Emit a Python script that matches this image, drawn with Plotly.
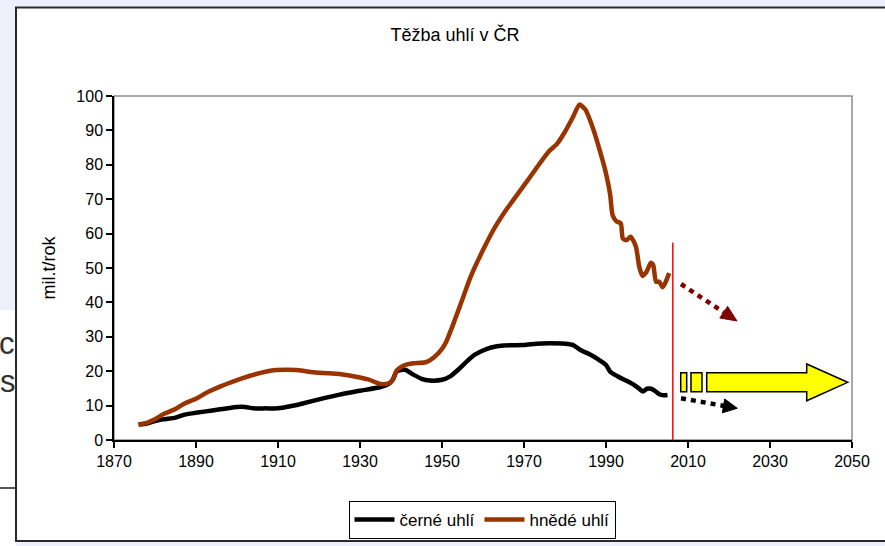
import plotly.graph_objects as go

# ---------------- data ----------------
years_cerne = [1876, 1878, 1880, 1882, 1885, 1887, 1890, 1894, 1897, 1900, 1902, 1904,
               1907, 1910, 1913, 1916, 1920, 1925, 1930, 1935, 1937, 1938, 1939, 1941,
               1943, 1945, 1947, 1950, 1952, 1954, 1956, 1958, 1960, 1962, 1965, 1970,
               1973, 1976, 1980, 1982, 1984, 1986, 1988, 1990, 1991, 1993, 1995, 1997,
               1998, 1999, 2000, 2001, 2002, 2003, 2004, 2005]
cerne = [4.5, 4.8, 5.5, 6.0, 6.5, 7.3, 7.9, 8.6, 9.1, 9.6, 9.6, 9.2,
         9.2, 9.2, 9.8, 10.6, 11.8, 13.2, 14.3, 15.4, 16.3, 17.5, 20.0, 20.4,
         19.0, 17.8, 17.3, 17.5, 18.5, 20.5, 22.8, 24.8, 26.0, 26.9, 27.5, 27.6,
         28.0, 28.1, 28.0, 27.6, 26.0, 24.9, 23.5, 21.8, 19.9, 18.4, 17.2, 15.9,
         15.0, 14.1, 14.9, 14.9, 14.2, 13.3, 13.0, 13.1]

years_hnede = [1876, 1878, 1880, 1882, 1885, 1887, 1890, 1893, 1896, 1900, 1903, 1906,
               1909, 1912, 1915, 1918, 1921, 1925, 1929, 1932, 1935, 1937, 1938, 1939,
               1941, 1943, 1946, 1948, 1950, 1951, 1953, 1955, 1957, 1960, 1963, 1966,
               1970, 1973, 1976, 1978, 1980, 1982, 1983.5, 1985, 1987, 1989, 1990, 1991,
               1991.6, 1992.6, 1993.6, 1994.1, 1995, 1996, 1997.3, 1998.1, 1998.9, 1999.9,
               2000.9, 2001.5, 2002.2, 2003, 2003.8, 2004.4, 2005.4]
hnede = [4.5, 5.0, 6.0, 7.5, 9.0, 10.5, 12.0, 14.0, 15.6, 17.4, 18.6, 19.6,
         20.3, 20.4, 20.3, 19.8, 19.5, 19.2, 18.4, 17.6, 16.3, 16.5, 17.6, 20.3,
         21.8, 22.3, 22.6, 24.0, 26.5, 28.5, 34.5, 41.0, 47.5, 55.2, 62.0, 67.5,
         74.0, 79.0, 83.8, 86.0, 89.6, 94.0, 97.5, 96.0, 90.0, 82.0, 77.5, 71.5,
         65.4, 63.5, 63.0, 58.6, 58.1, 59.1, 56.2, 50.4, 47.7, 48.9,
         51.5, 50.9, 46.0, 46.0, 44.4, 45.5, 48.5]

x_ticks = [1870, 1890, 1910, 1930, 1950, 1970, 1990, 2010, 2030, 2050]
y_ticks = [0, 10, 20, 30, 40, 50, 60, 70, 80, 90, 100]
series_names = ["černé uhlí", "hnědé uhlí"]
title_text = "Těžba uhlí v ČR"
y_title = "mil.t/rok"

# ---------------- layout helpers ----------------
W, H = 885, 546
L, R, T, B = 114, 852, 96, 440  # plot area in px


def pxx(p):
    return (p - L) / (R - L)


def pxy(p):
    return (B - p) / (B - T)


FONT = "Liberation Sans, Arial, sans-serif"
BROWN = "#993300"

fig = go.Figure()
fig.add_trace(go.Scatter(x=years_cerne, y=cerne, mode="lines", name=series_names[0],
                         line=dict(color="black", width=4.5, shape="spline", smoothing=0.6)))
fig.add_trace(go.Scatter(x=years_hnede, y=hnede, mode="lines", name=series_names[1],
                         line=dict(color=BROWN, width=4.5, shape="spline", smoothing=0.6)))

shapes = []
# white lower-left page area and the chart frame
shapes.append(dict(type="rect", xref="paper", yref="paper", x0=pxx(-5), x1=pxx(16),
                   y0=pxy(560), y1=pxy(310), fillcolor="white", line=dict(width=0), layer="below"))
shapes.append(dict(type="line", xref="paper", yref="paper", x0=pxx(-5), x1=pxx(16),
                   y0=pxy(488), y1=pxy(488), line=dict(color="#555555", width=2), layer="below"))
shapes.append(dict(type="rect", xref="paper", yref="paper", x0=pxx(16), x1=pxx(900),
                   y0=pxy(541), y1=pxy(7.5), fillcolor="white",
                   line=dict(color="#2a2a2a", width=2), layer="below"))
# plot-area border (gray)
shapes.append(dict(type="rect", xref="paper", yref="paper", x0=0, x1=1, y0=0, y1=1,
                   line=dict(color="#8c8c8c", width=1.5), layer="below"))
# red vertical line (today)
shapes.append(dict(type="line", xref="x", yref="y", x0=2006.3, x1=2006.3, y0=0, y1=57.4,
                   line=dict(color="#ff0000", width=1.5)))
# dotted trend arrows
shapes.append(dict(type="line", xref="x", yref="y", x0=2008.3, y0=45.35, x1=2018.7, y1=37.15,
                   line=dict(color="#800000", width=4.5, dash="5px,5px")))
shapes.append(dict(type="path", xref="x", yref="y",
                   path="M 2021.95 34.6 L 2017.76 35.47 L 2019.66 38.84 Z",
                   fillcolor="#800000", line=dict(color="#800000", width=1)))
shapes.append(dict(type="line", xref="x", yref="y", x0=2008.3, y0=12.12, x1=2018.85, y1=9.91,
                   line=dict(color="black", width=4.5, dash="5px,5px")))
shapes.append(dict(type="path", xref="x", yref="y",
                   path="M 2022.02 9.22 L 2018.37 7.91 L 2018.95 11.92 Z",
                   fillcolor="black", line=dict(color="black", width=1)))
# yellow block arrow
YEL = "#ffff00"
shapes.append(dict(type="rect", xref="x", yref="y", x0=2008.22, x1=2009.68, y0=14.04, y1=19.56,
                   fillcolor=YEL, line=dict(color="black", width=1.5)))
shapes.append(dict(type="rect", xref="x", yref="y", x0=2010.73, x1=2013.41, y0=14.04, y1=19.56,
                   fillcolor=YEL, line=dict(color="black", width=1.5)))
shapes.append(dict(type="path", xref="x", yref="y",
                   path=("M 2014.56 14.04 L 2038.95 14.04 L 2038.95 11.42 L 2048.95 16.77 "
                         "L 2038.95 22.09 L 2038.95 19.56 L 2014.56 19.56 Z"),
                   fillcolor=YEL, line=dict(color="black", width=1.5)))

annotations = [
    dict(text="c", xref="paper", yref="paper", x=pxx(-3), y=pxy(343), xanchor="left",
         yanchor="middle", showarrow=False, font=dict(family=FONT, size=31, color="#333333")),
    dict(text="s", xref="paper", yref="paper", x=pxx(-2), y=pxy(381), xanchor="left",
         yanchor="middle", showarrow=False, font=dict(family=FONT, size=31, color="#333333")),
]

fig.update_layout(
    width=W, height=H,
    margin=dict(l=L, r=W - R, t=T, b=H - B, pad=0, autoexpand=False),
    paper_bgcolor="#efeffb",
    plot_bgcolor="white",
    font=dict(family=FONT, size=16, color="black"),
    title=dict(text=title_text, x=455 / W, xref="container", xanchor="center",
               y=1 - 35 / H, yref="container", yanchor="middle",
               font=dict(family=FONT, size=18, color="black")),
    xaxis=dict(range=[1870, 2050], tickvals=x_ticks, ticktext=[str(v) for v in x_ticks],
               showgrid=False, zeroline=False, showline=True, linecolor="black", linewidth=1.5,
               ticks="outside", ticklen=6, tickwidth=1.5, tickcolor="black",
               tickfont=dict(family=FONT, size=16, color="black")),
    yaxis=dict(range=[0, 100], tickvals=y_ticks, ticktext=[str(v) for v in y_ticks],
               showgrid=False, zeroline=False, showline=True, linecolor="black", linewidth=1.5,
               ticks="outside", ticklen=6, tickwidth=1.5, tickcolor="black",
               tickfont=dict(family=FONT, size=16, color="black"),
               title=dict(text=y_title, standoff=16, font=dict(family=FONT, size=18, color="black"))),
    legend=dict(orientation="h", x=pxx(482), xanchor="center", y=pxy(501), yanchor="top",
                bordercolor="black", borderwidth=1, bgcolor="white",
                font=dict(family=FONT, size=17, color="black"), itemwidth=40,
                tracegroupgap=0),
    shapes=shapes,
    annotations=annotations,
    showlegend=True,
)

fig.write_html(
    "out.html",
    config={"displayModeBar": False},
    post_script="document.body.style.margin='0';document.body.style.overflow='hidden';",
)
